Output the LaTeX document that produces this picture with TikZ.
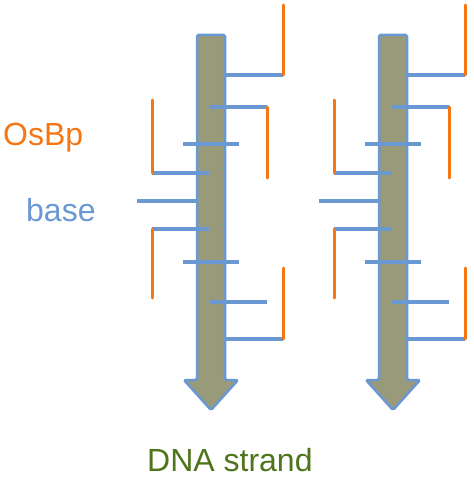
\documentclass[tikz,border=0pt]{standalone}
\usepackage{fontspec}
\setmainfont{Liberation Sans}
\definecolor{strandFill}{RGB}{152,154,122}
\definecolor{baseBlue}{RGB}{106,152,210}
\definecolor{osbpOrange}{RGB}{245,118,18}
\definecolor{dnaGreen}{RGB}{78,116,28}
\tikzset{%
  % Specifications for style of the strand parts:
      backbone/.style = {draw=baseBlue, line width=2.5pt, fill=strandFill,
                         rounded corners=1.5pt},
       baseBar/.style = {draw=baseBlue, line width=3.5pt},
       osbpBar/.style = {draw=osbpOrange, line width=3pt, line cap=round},
     labelText/.style = {font=\fontsize{32}{36}\selectfont, inner sep=0pt,
                         anchor=base west},
  % one strand with its bases and OsBp legs
  strand/.pic = {
    \draw[backbone] (197,35) -- (225,35) -- (225,380) -- (238,380)
                    -- (211,410) -- (184,380) -- (197,380) -- cycle;
    \foreach \y/\xa/\xb in {75/225/283, 107/210/267, 144/183/239,
                            173/152/209, 201/137/197, 229/152/209,
                            262/183/239, 302/210/267, 339/225/283}
      \draw[baseBar] (\xa,\y) -- (\xb,\y);
    \foreach \x/\ya/\yb in {283/5/75, 267/107/178, 152/100/173,
                            152/229/298, 283/268/339}
      \draw[osbpBar] (\x,\ya) -- (\x,\yb);
  },
}

\begin{document}
\begin{tikzpicture}[x=1pt, y=-1pt]
  \useasboundingbox (0,0) rectangle (473,478);

  % the two strands
  \foreach \dx in {0,182}
    \pic at (\dx,0) {strand};

  % labels
  \node (osbpLabel) [labelText, text=osbpOrange] at (3,146)   {OsBp};
  \node (baseLabel) [labelText, text=baseBlue]   at (26,221)  {base};
  \node (dnaLabel)  [labelText, text=dnaGreen]   at (147,471) {DNA strand};
\end{tikzpicture}
\end{document}
